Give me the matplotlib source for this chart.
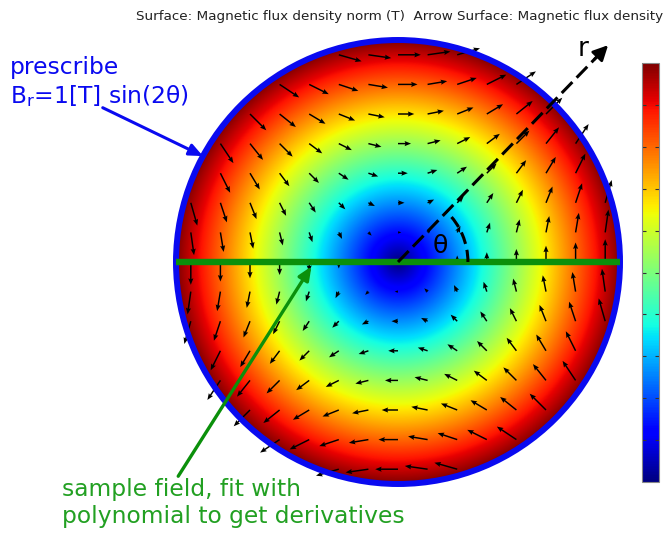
import numpy as np
import matplotlib
matplotlib.use("Agg")
import matplotlib.pyplot as plt
from matplotlib.patches import Circle, Arc

# Prescribed boundary field: B_r = B0 * sin(2*theta) on the unit disk
B0 = 1.0                      # amplitude [T]
n_arrow_steps = 15            # arrow grid: 15 steps across the diameter
arrow_scale = 0.11            # arrow length per tesla (disk radii)
cbar_ticks = [0.1, 0.2, 0.3, 0.4, 0.5, 0.6, 0.7, 0.8, 0.9]
cbar_range = [0.0, 1.0]
title_text = "Surface: Magnetic flux density norm (T)  Arrow Surface: Magnetic flux density"
bc_label = ["prescribe", r"B$_\mathregular{r}$=1[T] sin(2θ)"]
sample_label = ["sample field, fit with", "polynomial to get derivatives"]


def field(x, y):
    """Quadrupole field inside the disk whose radial part is B0*sin(2θ)."""
    return B0 * y, B0 * x


BLUE = "#0a0af0"
GREEN = "#0b900b"
GREEN_TXT = "#22a022"

W, H = 667, 535
cx, cy, R = 398, 262, 222     # disk centre / radius in figure pixels

fig = plt.figure(figsize=(W / 100, H / 100), dpi=100)
ax = fig.add_axes([0, 0, 1, 1])
ax.set_xlim(-cx / R, (W - cx) / R)
ax.set_ylim(-(H - cy) / R, cy / R)
ax.axis("off")

# Surface: flux density norm
g = np.linspace(-1, 1, 801)
X, Y = np.meshgrid(g, g)
Bx, By = field(X, Y)
Bn = np.hypot(Bx, By)
im = ax.imshow(Bn, extent=(-1, 1, -1, 1), origin="lower", cmap="jet",
               vmin=cbar_range[0], vmax=cbar_range[1], interpolation="bilinear",
               zorder=1)
clip = Circle((0, 0), 1.0, transform=ax.transData)
im.set_clip_path(clip)

# Arrow surface (arrows anchored at their tails on a regular grid)
step = 2.0 / n_arrow_steps
k = np.arange(-7, 8) * step
AX, AY = np.meshgrid(k, k)
inside = np.hypot(AX, AY) < 1.0
AX, AY = AX[inside], AY[inside]
U, V = field(AX, AY)
ax.quiver(AX, AY, U * arrow_scale, V * arrow_scale, angles="xy",
          scale_units="xy", scale=1, units="xy", width=0.0066,
          headwidth=3.5, headlength=4.4, headaxislength=3.9,
          color="black", zorder=3, pivot="tail")

# Boundary and sampling line
ax.add_patch(Circle((0, 0), 1.0, fill=False, ec=BLUE, lw=4.3, zorder=5))
ax.plot([-1, 1], [0, 0], color=GREEN, lw=4.6, solid_capstyle="butt", zorder=6)

# Radial direction r and angle θ
ang = np.deg2rad(45.9)
L = 1.36
ax.plot([0, (L - 0.06) * np.cos(ang)], [0, (L - 0.06) * np.sin(ang)],
        color="black", lw=2.2, dashes=(5, 2), zorder=7)
ax.annotate("", xy=(L * np.cos(ang), L * np.sin(ang)),
            xytext=((L - 0.09) * np.cos(ang), (L - 0.09) * np.sin(ang)),
            arrowprops=dict(arrowstyle="-|>,head_length=0.9,head_width=0.45",
                            color="black", lw=2.0, shrinkA=0, shrinkB=0),
            zorder=8)
ax.add_patch(Arc((0, 0), 2 * 0.315, 2 * 0.315, theta1=0, theta2=45.9,
                 color="black", lw=2.2, ls=(0, (4, 2)), zorder=7))
ax.text(0.808, 0.93, "r", fontsize=19, color="black", ha="left",
        va="baseline", zorder=9)
ax.text(0.19, 0.04, "θ", fontsize=18, color="black", ha="center",
        va="baseline", zorder=9)

# Annotations
ax.text(-1.748, 0.845, bc_label[0], fontsize=16.8, color=BLUE, va="baseline")
ax.text(-1.748, 0.718, bc_label[1], fontsize=16.8, color=BLUE, va="baseline")
tip = np.deg2rad(151.5)
ax.annotate("", xy=(np.cos(tip) * 1.0, np.sin(tip) * 1.0), xytext=(-1.33, 0.695),
            arrowprops=dict(arrowstyle="-|>,head_length=0.8,head_width=0.35",
                            color=BLUE, lw=2.2, shrinkA=0, shrinkB=0),
            zorder=9)

ax.text(-1.514, -1.053, sample_label[0], fontsize=16.8, color=GREEN_TXT,
        va="baseline")
ax.text(-1.514, -1.176, sample_label[1], fontsize=16.8, color=GREEN_TXT,
        va="baseline")
ax.annotate("", xy=(-0.39, -0.02), xytext=(-0.99, -0.965),
            arrowprops=dict(arrowstyle="-|>,head_length=0.8,head_width=0.35",
                            color=GREEN, lw=2.4, shrinkA=0, shrinkB=0),
            zorder=9)

fig.text(663 / W, 1 - 20 / H, title_text, fontsize=9.7, ha="right",
         va="baseline", color="#222222")

# Colour bar
cax = fig.add_axes([642 / W, (H - 482) / H, 17 / W, 419 / H])
cb = fig.colorbar(im, cax=cax)
cb.set_ticks(cbar_ticks)
cax.tick_params(axis="y", direction="in", left=True, right=True,
                labelleft=False, labelright=False, length=3, width=0.8,
                color="#333333")
cb.outline.set_edgecolor("#888888")
cb.outline.set_linewidth(0.8)

fig.savefig("out.png", dpi=100)
